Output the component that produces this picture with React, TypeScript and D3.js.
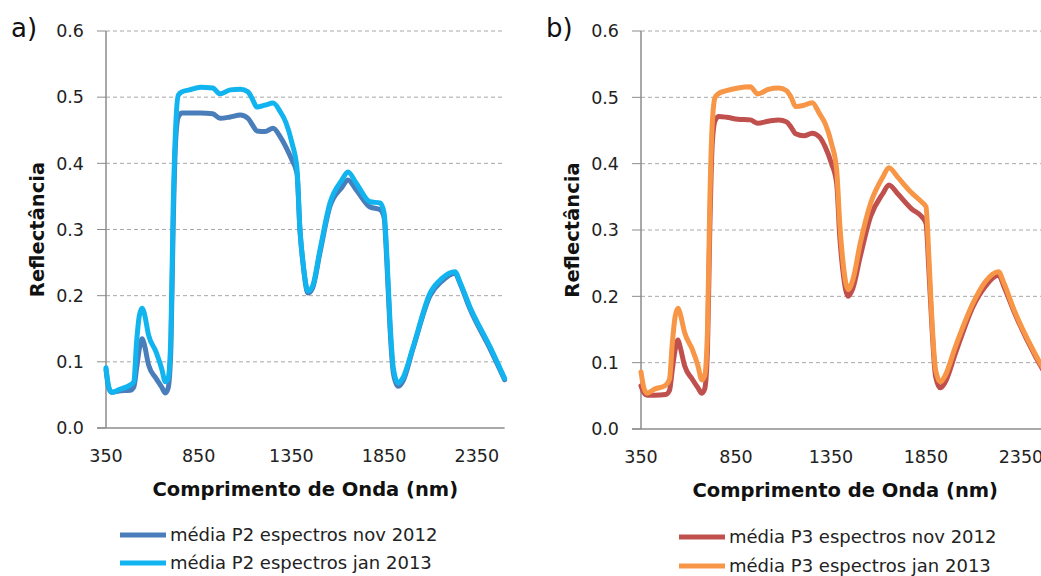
import React from 'react';
import * as d3 from 'd3';

// wavelength (nm) sampled along the spectra
const wavelengths = [
  350, 365, 382, 420, 480, 500, 515, 530, 545, 555, 580, 620, 650, 670, 685, 700, 712, 725, 740, 760,
  800, 860, 925, 965, 1020, 1075, 1116, 1140, 1164, 1208, 1251, 1290, 1320, 1353, 1380, 1396, 1412, 1440,
  1465, 1504, 1558, 1623, 1655, 1700, 1774, 1828, 1850, 1865, 1882, 1900, 1925, 1950, 2006, 2098, 2162,
  2232, 2260, 2313, 2421, 2500,
];

const p2Nov = [
  0.088, 0.06, 0.054, 0.056, 0.057, 0.062, 0.09, 0.12, 0.135, 0.128, 0.095, 0.075, 0.062, 0.053, 0.06, 0.12, 0.3, 0.43, 0.47, 0.476,
  0.476, 0.476, 0.475, 0.468, 0.47, 0.473, 0.468, 0.458, 0.449, 0.448, 0.453, 0.44, 0.425, 0.405, 0.385, 0.3, 0.25, 0.204,
  0.212, 0.265, 0.335, 0.364, 0.375, 0.36, 0.334, 0.33, 0.318, 0.25, 0.15, 0.083, 0.063, 0.07, 0.12, 0.2, 0.222,
  0.234, 0.218, 0.18, 0.12, 0.073,
];

const p2Jan = [
  0.091, 0.062, 0.054, 0.058, 0.065, 0.07, 0.13, 0.17, 0.181, 0.175, 0.14, 0.115, 0.09, 0.07, 0.075, 0.14, 0.33, 0.45, 0.503, 0.508,
  0.511, 0.515, 0.514, 0.505, 0.511, 0.512, 0.508, 0.497, 0.485, 0.488, 0.491, 0.478, 0.462, 0.431, 0.392, 0.3, 0.252, 0.207,
  0.215, 0.269, 0.34, 0.375, 0.387, 0.37, 0.342, 0.34, 0.325, 0.26, 0.16, 0.09, 0.068, 0.075, 0.122, 0.204, 0.226,
  0.236, 0.22, 0.183, 0.123, 0.075,
];

const p3Nov = [
  0.065, 0.055, 0.051, 0.051, 0.052, 0.058, 0.09, 0.12, 0.134, 0.125, 0.095, 0.075, 0.062, 0.054, 0.06, 0.12, 0.3, 0.43, 0.465, 0.471,
  0.47, 0.467, 0.466, 0.461, 0.464, 0.466, 0.463, 0.455, 0.445, 0.442, 0.446, 0.44, 0.425, 0.4, 0.37, 0.29, 0.24, 0.2,
  0.212, 0.26, 0.32, 0.355, 0.368, 0.355, 0.332, 0.32, 0.31, 0.24, 0.15, 0.08, 0.062, 0.07, 0.115, 0.185, 0.215,
  0.232, 0.215, 0.177, 0.112, 0.072,
];

const p3Jan = [
  0.086, 0.062, 0.054, 0.06, 0.066, 0.075, 0.13, 0.17, 0.182, 0.175, 0.145, 0.12, 0.095, 0.074, 0.08, 0.15, 0.34, 0.46, 0.5, 0.506,
  0.51, 0.514, 0.516, 0.505, 0.512, 0.514, 0.51, 0.5, 0.486, 0.488, 0.492, 0.475, 0.46, 0.43, 0.39, 0.31, 0.255, 0.21,
  0.225, 0.28, 0.34, 0.38, 0.394, 0.38, 0.356, 0.342, 0.335, 0.26, 0.16, 0.09, 0.071, 0.08, 0.125, 0.19, 0.222,
  0.237, 0.22, 0.18, 0.115, 0.075,
];

const xTicks = [350, 850, 1350, 1850, 2350];
const yTicks = [0, 0.1, 0.2, 0.3, 0.4, 0.5, 0.6];

const FONT = '"DejaVu Sans", sans-serif';

type Series = { name: string; values: number[]; color: string };

const Panel = ({ tag, left, right, top, bottom, series, legendX, legendY }: {
  tag: string; left: number; right: number; top: number; bottom: number;
  series: Series[]; legendX: number; legendY: number[];
}) => {
  const x = d3.scaleLinear().domain([350, 2500]).range([left, right]);
  const y = d3.scaleLinear().domain([0, 0.6]).range([bottom, top]);
  const line = d3.line<number>()
    .x((_, i) => x(wavelengths[i]))
    .y(d => y(d))
    .curve(d3.curveMonotoneX);
  const cx = (left + right) / 2;

  return (
    <g>
      <text x={left - 95} y={top + 6} fontFamily={FONT} fontSize={26} fill="#111">{tag}</text>
      {yTicks.map(t => (
        <g key={t}>
          {t > 0 && (
            <line x1={left} x2={right} y1={y(t)} y2={y(t)} stroke="#a8a8a8" strokeDasharray="4,3" strokeWidth={1} />
          )}
          <line x1={left - 9} x2={left} y1={y(t)} y2={y(t)} stroke="#8c8c8c" strokeWidth={1} />
          <text x={left - 22} y={y(t)} dy="0.36em" textAnchor="end" fontFamily={FONT} fontSize={17.5} fill="#222">
            {t.toFixed(1)}
          </text>
        </g>
      ))}
      <line x1={left} x2={left} y1={top} y2={bottom} stroke="#8c8c8c" strokeWidth={1.5} />
      <line x1={left - 9} x2={right} y1={bottom} y2={bottom} stroke="#8c8c8c" strokeWidth={1.5} />
      {xTicks.map(t => (
        <text key={t} x={x(t)} y={bottom + 34} textAnchor="middle" fontFamily={FONT} fontSize={17.5} fill="#222">{t}</text>
      ))}
      {series.map(s => (
        <path key={s.name} d={line(s.values) ?? ''} fill="none" stroke={s.color} strokeWidth={5}
          strokeLinejoin="round" strokeLinecap="round" />
      ))}
      <text x={cx} y={bottom + 68} textAnchor="middle" fontFamily={FONT} fontSize={19.5} fontWeight="bold" fill="#111">
        Comprimento de Onda (nm)
      </text>
      <text transform={`translate(${left - 69},${(top + bottom) / 2}) rotate(-90)`} textAnchor="middle" dy="0.36em"
        fontFamily={FONT} fontSize={19.5} fontWeight="bold" fill="#111">
        Reflectância
      </text>
      {series.map((s, i) => (
        <g key={s.name}>
          <line x1={legendX} x2={legendX + 46} y1={legendY[i]} y2={legendY[i]} stroke={s.color} strokeWidth={5} />
          <text x={legendX + 50} y={legendY[i]} dy="0.36em" fontFamily={FONT} fontSize={18} fill="#222">{s.name}</text>
        </g>
      ))}
    </g>
  );
};

export default function App() {
  return (
    <svg width={1041} height={576} style={{ position: 'absolute', left: 0, top: 0, background: '#fff' }}>
      <Panel tag="a)" left={106} right={504.6} top={31} bottom={428}
        series={[
          { name: 'média P2 espectros nov 2012', values: p2Nov, color: '#4a7ebb' },
          { name: 'média P2 espectros jan 2013', values: p2Jan, color: '#12b4ef' },
        ]}
        legendX={120} legendY={[535, 563]} />
      <Panel tag="b)" left={641} right={1049.5} top={31} bottom={429}
        series={[
          { name: 'média P3 espectros nov 2012', values: p3Nov, color: '#c0504d' },
          { name: 'média P3 espectros jan 2013', values: p3Jan, color: '#f79646' },
        ]}
        legendX={679} legendY={[537, 566]} />
    </svg>
  );
}
